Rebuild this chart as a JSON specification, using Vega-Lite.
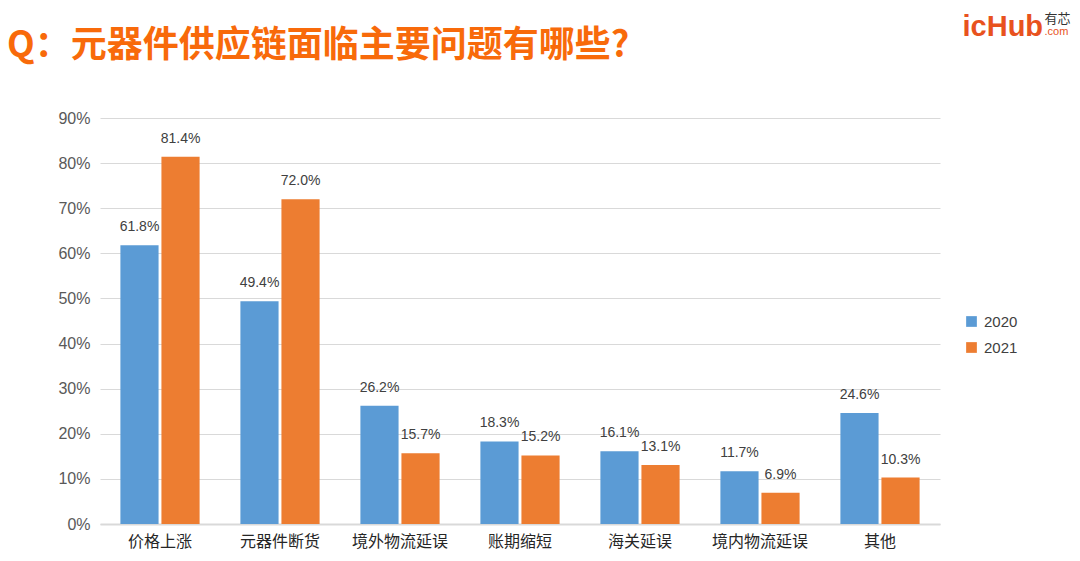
{
  "$schema": "https://vega.github.io/schema/vega-lite/v6.json",
  "width": 840,
  "height": 406,
  "autosize": {"type": "none"},
  "padding": {"left": 100, "top": 118, "right": 140, "bottom": 37},
  "background": "white",
  "title": {
    "text": "Q：元器件供应链面临主要问题有哪些?",
    "anchor": "start",
    "frame": "group",
    "font": "Noto Sans CJK SC",
    "fontSize": 36,
    "fontWeight": "bold",
    "color": "#F86A0A",
    "dx": -93,
    "offset": 0,
    "dy": 53
  },
  "data": {
    "values": [
      {"cat": "价格上涨", "year": "2020", "v": 0.618, "label": "61.8%"},
      {"cat": "价格上涨", "year": "2021", "v": 0.814, "label": "81.4%"},
      {"cat": "元器件断货", "year": "2020", "v": 0.494, "label": "49.4%"},
      {"cat": "元器件断货", "year": "2021", "v": 0.720, "label": "72.0%"},
      {"cat": "境外物流延误", "year": "2020", "v": 0.262, "label": "26.2%"},
      {"cat": "境外物流延误", "year": "2021", "v": 0.157, "label": "15.7%"},
      {"cat": "账期缩短", "year": "2020", "v": 0.183, "label": "18.3%"},
      {"cat": "账期缩短", "year": "2021", "v": 0.152, "label": "15.2%"},
      {"cat": "海关延误", "year": "2020", "v": 0.161, "label": "16.1%"},
      {"cat": "海关延误", "year": "2021", "v": 0.131, "label": "13.1%"},
      {"cat": "境内物流延误", "year": "2020", "v": 0.117, "label": "11.7%"},
      {"cat": "境内物流延误", "year": "2021", "v": 0.069, "label": "6.9%"},
      {"cat": "其他", "year": "2020", "v": 0.246, "label": "24.6%"},
      {"cat": "其他", "year": "2021", "v": 0.103, "label": "10.3%"}
    ]
  },
  "layer": [
    {
      "mark": {"type": "bar"},
      "encoding": {
        "x": {
          "field": "cat",
          "type": "nominal",
          "sort": null,
          "scale": {"paddingInner": 0.34, "paddingOuter": 0.17},
          "axis": {
            "title": null,
            "labelAngle": 0,
            "labelFont": "Noto Sans CJK SC",
            "labelFontSize": 16,
            "labelColor": "#262626",
            "labelPadding": 9,
            "ticks": false,
            "domainColor": "#D9D9D9",
            "domainWidth": 2,
            "grid": false
          }
        },
        "xOffset": {
          "field": "year",
          "type": "nominal",
          "scale": {"paddingInner": 0.07}
        },
        "y": {
          "field": "v",
          "type": "quantitative",
          "scale": {"domain": [0, 0.9], "nice": false},
          "axis": {
            "title": null,
            "format": ".0%",
            "values": [0, 0.1, 0.2, 0.3, 0.4, 0.5, 0.6, 0.7, 0.8, 0.9],
            "labelOverlap": false,
            "labelFont": "Liberation Sans",
            "labelFontSize": 16,
            "labelColor": "#595959",
            "labelPadding": 10,
            "ticks": false,
            "domain": false,
            "grid": true,
            "gridColor": "#D9D9D9",
            "gridWidth": 1.2
          }
        },
        "color": {
          "field": "year",
          "type": "nominal",
          "scale": {"domain": ["2020", "2021"], "range": ["#5B9BD5", "#ED7D31"]},
          "legend": {
            "title": null,
            "orient": "none",
            "legendX": 864,
            "legendY": 196,
            "padding": 0,
            "symbolType": "square",
            "symbolSize": 115,
            "symbolStrokeWidth": 0,
            "labelFont": "Liberation Sans",
            "labelFontSize": 15,
            "labelColor": "#404040",
            "labelOffset": 5,
            "rowPadding": 10
          }
        }
      }
    },
    {
      "mark": {
        "type": "text",
        "baseline": "alphabetic",
        "dy": -14,
        "font": "Liberation Sans",
        "fontSize": 14,
        "color": "#404040"
      },
      "encoding": {
        "text": {"field": "label"},
        "x": {
          "field": "cat",
          "type": "nominal",
          "sort": null,
          "axis": {
            "orient": "top",
            "labels": false,
            "ticks": false,
            "domain": false,
            "grid": false,
            "title": "icHub",
            "titleFont": "Liberation Sans",
            "titleFontSize": 29,
            "titleFontWeight": "bold",
            "titleColor": "#E8521E",
            "titleAlign": "left",
            "titleBaseline": "alphabetic",
            "titleAnchor": null,
            "titleX": 862,
            "titleY": -83
          }
        },
        "xOffset": {"field": "year", "type": "nominal"},
        "y": {
          "field": "v",
          "type": "quantitative",
          "axis": {
            "orient": "right",
            "labels": false,
            "ticks": false,
            "domain": false,
            "grid": false,
            "title": "有芯",
            "titleAngle": 0,
            "titleFont": "Noto Sans CJK SC",
            "titleFontSize": 13,
            "titleFontWeight": "normal",
            "titleColor": "#333333",
            "titleAlign": "left",
            "titleBaseline": "alphabetic",
            "titleAnchor": null,
            "titleX": 104,
            "titleY": -96
          }
        }
      }
    },
    {
      "mark": {"type": "text", "text": ""},
      "encoding": {
        "x": {"field": "cat", "type": "nominal", "sort": null, "axis": null},
        "y": {
          "field": "v",
          "type": "quantitative",
          "axis": {
            "orient": "right",
            "labels": false,
            "ticks": false,
            "domain": false,
            "grid": false,
            "title": ".com",
            "titleAngle": 0,
            "titleFont": "Liberation Sans",
            "titleFontSize": 11,
            "titleFontWeight": "normal",
            "titleColor": "#E8521E",
            "titleAlign": "left",
            "titleBaseline": "alphabetic",
            "titleAnchor": null,
            "titleX": 104,
            "titleY": -84
          }
        }
      }
    }
  ],
  "resolve": {"axis": {"x": "independent", "y": "independent"}},
  "config": {
    "view": {"stroke": null},
    "font": "Liberation Sans"
  }
}
